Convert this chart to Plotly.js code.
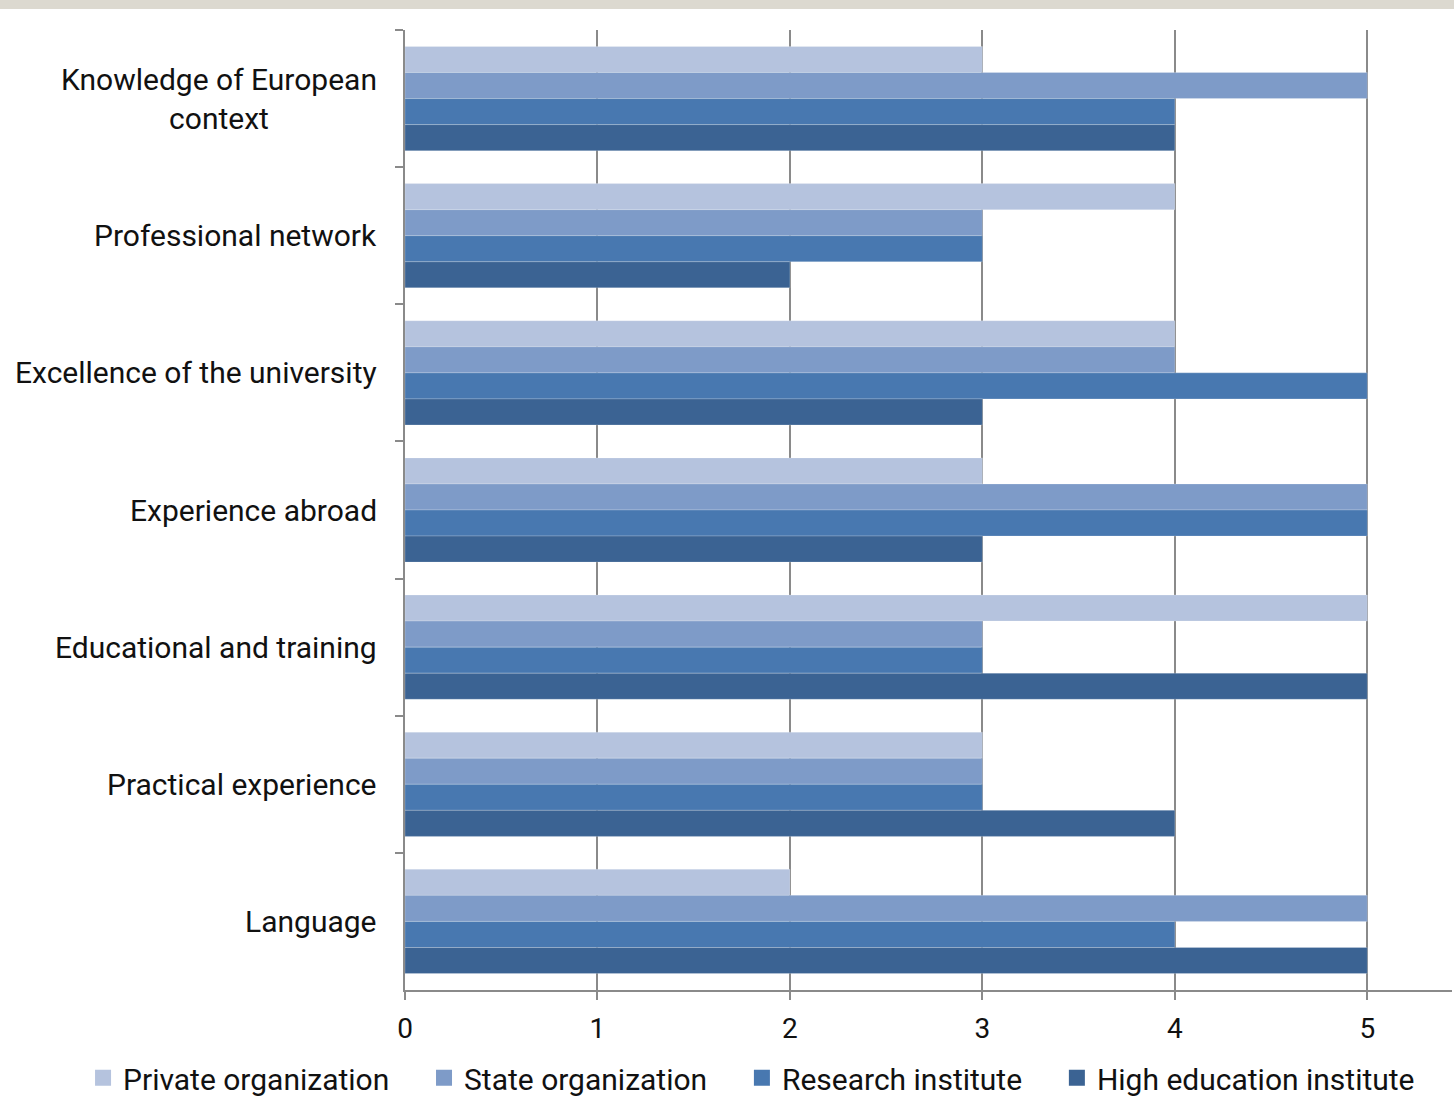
<!DOCTYPE html>
<html>
<head>
<meta charset="utf-8">
<script src="https://cdn.plot.ly/plotly-3.0.1.min.js"></script>
<style>html,body{margin:0;padding:0;background:#fff;}#chart{width:1454px;height:1098px;}</style>
</head>
<body>
<div id="chart"></div>
<script>
const categories = ["Knowledge of European context", "Professional network", "Excellence of the university", "Experience abroad", "Educational and training", "Practical experience", "Language"];
const categoryLabels = ["Knowledge of European<br>context", "Professional network", "Excellence of the university", "Experience abroad", "Educational and training", "Practical experience", "Language"];
const seriesNames = ["Private organization", "State organization", "Research institute", "High education institute"];
const privateOrg = [3, 4, 4, 3, 5, 3, 2];
const stateOrg = [5, 3, 4, 5, 3, 3, 5];
const researchInst = [4, 3, 5, 5, 3, 3, 4];
const highEduInst = [4, 2, 3, 3, 5, 4, 5];
const xTicks = [0, 1, 2, 3, 4, 5];
const colors = ["#b5c3de", "#7e9bc8", "#4878b0", "#3b6393"];

const values = [privateOrg, stateOrg, researchInst, highEduInst];
const barTraces = values.map((v, i) => ({
  type: "bar",
  orientation: "h",
  name: seriesNames[i],
  legendgroup: "g" + i,
  showlegend: false,
  y: categories,
  x: v,
  marker: {color: colors[i], line: {width: 0.6, color: "rgba(255,255,255,0.35)"}},
  hoverinfo: "x+y+name"
}));
// legend entries with larger square swatches, same series names/colours
const legendTraces = seriesNames.map((n, i) => ({
  type: "scatter", mode: "markers",
  name: n + "\u00a0\u00a0\u00a0\u00a0",
  legendgroup: "g" + i,
  x: [null], y: [null],
  marker: {symbol: "square", size: 16, color: colors[i]},
  hoverinfo: "skip"
}));

const font = {family: "Roboto, 'Noto Sans', sans-serif", color: "#111111"};
const FS = 30;

const annotations = categories.map((c, i) => ({
  xref: "paper", yref: "y", x: 0, y: c,
  xanchor: "right", yanchor: "middle", xshift: -26,
  text: categoryLabels[i], showarrow: false, align: "center",
  font: Object.assign({}, font, {size: FS})
}));

const layout = {
  width: 1454, height: 1098,
  margin: {l: 405, r: 2, t: 30, b: 108, autoexpand: false},
  paper_bgcolor: "#ffffff", plot_bgcolor: "#ffffff",
  barmode: "group", bargap: 0.24, bargroupgap: 0,
  font: font,
  showlegend: true,
  legend: {
    orientation: "h", xref: "paper", x: -0.3075, xanchor: "left",
    yref: "paper", y: -0.0915, yanchor: "middle",
    font: Object.assign({}, font, {size: FS}),
    traceorder: "normal", itemclick: false, itemwidth: 30
  },
  xaxis: {
    range: [0, 5.44], tickvals: xTicks, ticktext: xTicks.map(String),
    showgrid: true, gridcolor: "#8a8a8a", gridwidth: 2,
    zeroline: false, showline: true, linecolor: "#8a8a8a", linewidth: 2,
    ticks: "outside", ticklen: 8, tickcolor: "#8a8a8a", tickwidth: 2,
    ticklabelstandoff: 4,
    tickfont: Object.assign({}, font, {size: 28}),
    fixedrange: true
  },
  yaxis: {
    type: "category", categoryarray: categories, categoryorder: "array",
    autorange: "reversed",
    showticklabels: false,
    showgrid: false, zeroline: false,
    showline: true, linecolor: "#8a8a8a", linewidth: 2,
    ticks: "outside", tickson: "boundaries", ticklen: 8, tickcolor: "#8a8a8a", tickwidth: 2,
    fixedrange: true
  },
  annotations: annotations,
  shapes: [{
    type: "rect", xref: "paper", yref: "paper",
    x0: -405/1047, x1: 2/1047 + 1, y0: 1 + 21/960, y1: 1 + 31/960,
    fillcolor: "#dcd9d0", line: {width: 0}, layer: "below"
  }]
};

Plotly.newPlot("chart", barTraces.concat(legendTraces), layout, {displayModeBar: false});
</script>
</body>
</html>
